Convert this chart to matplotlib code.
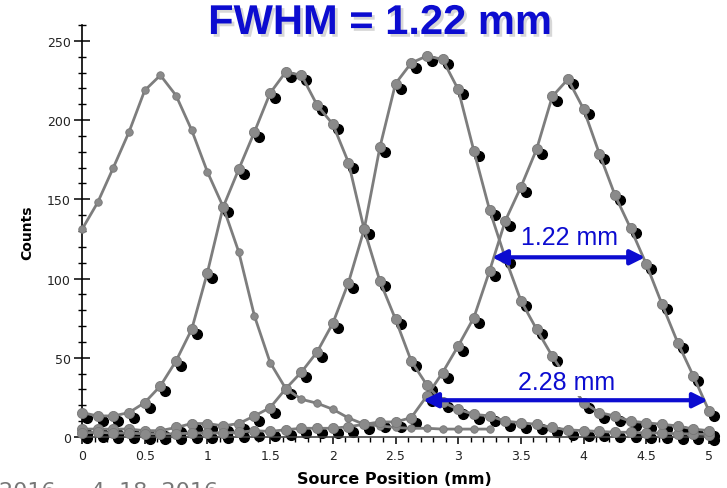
import matplotlib
matplotlib.use("Agg")
import matplotlib.pyplot as plt
import matplotlib.transforms as mtransforms
import matplotlib.patheffects as pe
import numpy as np

# Source positions (mm), 0.125 mm steps
x_full = [i * 0.125 for i in range(41)]
x_first = [i * 0.125 for i in range(27)]

# Counts for the four scan positions
counts_a = [131, 148, 170, 192.5, 218.7, 228.3, 215.5, 193.6, 167.3, 145.4,
            116.8, 76.4, 47, 30.5, 23.8, 21.3, 17.5, 12, 8, 7,
            6, 5.5, 5.5, 5, 5, 5, 5]
counts_b = [15.4, 13.3, 13.3, 15.4, 21.7, 32.2, 48, 68, 103.8, 145,
            169, 192.5, 217, 230.4, 228.3, 209.4, 197.4, 173.2, 131, 98.5,
            74.3, 48, 32.8, 22, 17.5, 14.3, 13.3, 10, 9, 8,
            6, 4.5, 4, 3.5, 3, 3, 2.5, 2.5, 2, 2, 1.5]
counts_c = [5, 5, 5, 5, 4, 4, 6, 8.5, 8.5, 7,
            8.5, 13.3, 18.5, 30.5, 41, 53.7, 71.8, 97.5, 131, 182.7,
            223, 236, 240.5, 238.3, 219.3, 180.5, 143.3, 113, 86, 68,
            51, 36, 21.7, 15.4, 13.3, 10, 9, 8, 7, 5, 4]
counts_d = [2.6, 3, 2.5, 2.5, 2, 2, 2, 2.5, 2.5, 2.5,
            3, 4, 3.5, 4.6, 5.5, 5.5, 5.5, 6.5, 8, 9.5,
            9.5, 12.2, 25.9, 40.6, 57.5, 75.4, 104.8, 136.4, 157.8, 181.6,
            214.9, 225.8, 206.9, 178.9, 152.6, 131.6, 109, 83.8, 59.6, 38.5, 16.4]

title = "FWHM = 1.22 mm"
fwhm_label = "1.22 mm"
fwtm_label = "2.28 mm"
fwhm_span = (3.27, 4.49, 113.4)
fwtm_span = (2.72, 4.99, 23.2)
x_ticks = [0, 0.5, 1, 1.5, 2, 2.5, 3, 3.5, 4, 4.5, 5]
x_tick_labels = ["0", "0.5", "1", "1.5", "2", "2.5", "3", "3.5", "4", "4.5", "5"]
y_ticks = [0, 50, 100, 150, 200, 250]

BLUE = "#0c0cd0"
GRAY = "#8a8a8a"
LINE = "#7d7d7d"

fig = plt.figure(figsize=(7.27, 4.89), dpi=100)
ax = fig.add_axes([82 / 727, 51 / 489, 630.8 / 727, 412 / 489])

# drop shadow transform for the data markers
shadow = mtransforms.offset_copy(ax.transData, fig=fig, x=5, y=-5, units="dots")

for ys in (counts_b, counts_c, counts_d):
    ax.plot(x_full, ys, "o", ms=7.0, color="black", mec="black",
            transform=shadow, zorder=2, clip_on=False)

ax.plot(x_first, counts_a, "-", color=LINE, lw=2, zorder=3, clip_on=False)
ax.plot(x_first, counts_a, "o", ms=5.4, color=GRAY, mec="#777777", mew=0.6,
        zorder=4, clip_on=False)
for ys in (counts_b, counts_c, counts_d):
    ax.plot(x_full, ys, "-", color=LINE, lw=2, zorder=3, clip_on=False)
    ax.plot(x_full, ys, "o", ms=7.3, color=GRAY, mec="#777777", mew=0.6,
            zorder=4, clip_on=False)

# width annotations
for (x0, x1, yv) in (fwhm_span, fwtm_span):
    ax.annotate("", xy=(x1, yv), xytext=(x0, yv),
                arrowprops=dict(arrowstyle="<|-|>", color=BLUE, lw=3,
                                mutation_scale=22, shrinkA=0, shrinkB=0),
                zorder=6)
ax.text(3.89, 126, fwhm_label, color=BLUE, fontsize=18,
        family="Liberation Sans", ha="center", va="center", zorder=5,
        bbox=dict(facecolor="white", edgecolor="none", pad=1))
ax.text(3.86, 35, fwtm_label, color=BLUE, fontsize=18,
        family="Liberation Sans", ha="center", va="center", zorder=5,
        bbox=dict(facecolor="white", edgecolor="none", pad=2))

ax.set_xlim(0, 5.03)
ax.set_ylim(0, 260)
ax.set_xticks(x_ticks)
ax.set_xticklabels(x_tick_labels)
ax.set_xticks(np.arange(0, 5.01, 0.1), minor=True)
ax.set_yticks(y_ticks)
ax.set_yticks(np.arange(0, 261, 10), minor=True)

for s in ("top", "right"):
    ax.spines[s].set_visible(False)
ax.spines["left"].set_color("black")
ax.spines["left"].set_linewidth(1.2)
ax.spines["bottom"].set_color("#444444")
ax.spines["bottom"].set_linewidth(1.2)

ax.tick_params(axis="y", which="major", direction="inout", length=12,
               width=1.1, labelsize=9, labelcolor="#222222", pad=2)
ax.tick_params(axis="y", which="minor", direction="inout", length=6, width=1)
ax.tick_params(axis="x", which="major", direction="out", length=5,
               width=1.1, labelsize=9, labelcolor="#222222", pad=4)
ax.tick_params(axis="x", which="minor", direction="out", length=3.5, width=1)

ax.set_xlabel("Source Position (mm)", fontsize=11.5, fontweight="bold")
ax.xaxis.set_label_coords((394 - 82) / 630.8, -(480 - 438) / 412)
ax.xaxis.label.set_va("center")
ax.set_ylabel("Counts", fontsize=10, fontweight="bold")
ax.yaxis.set_label_coords((27 - 82) / 630.8, (438 - 233) / 412)
ax.yaxis.label.set_va("center")

fig.text(380 / 727, 1 - 24 / 489, title, color=BLUE, fontsize=30,
         fontweight="bold", family="Liberation Sans", ha="center", va="center",
         path_effects=[pe.withSimplePatchShadow(offset=(2, -2),
                                                shadow_rgbFace="#b0b0b0",
                                                alpha=0.5)])

fig.text(-0.002, 1 - 492 / 489, "2016 ... 4, 18, 2016", color="#777777",
         fontsize=16, ha="left", va="center")

fig.savefig("out.png", dpi=100)
